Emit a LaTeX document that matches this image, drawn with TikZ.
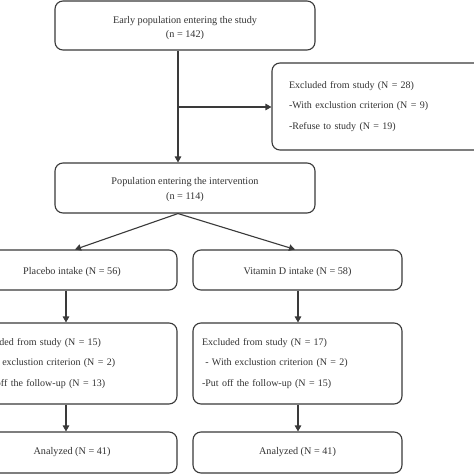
\documentclass[tikz,border=0pt]{standalone}
\usepackage{fontspec}
\setmainfont{Liberation Serif}
\usetikzlibrary{arrows.meta}
\definecolor{ln}{HTML}{3A3A3A}
\definecolor{tx}{HTML}{333333}
\tikzset{
  box/.style={draw=ln, line width=1.1pt, rounded corners=8pt, inner sep=0pt, text=tx, align=center, font=\fontsize{10.2}{14}\selectfont},
  txt/.style={inner sep=0pt, text=tx, align=center, font=\fontsize{10.2}{14}\selectfont},
  listbox/.style={box, align=left, font=\fontsize{10}{20.5}\selectfont},
  arr/.style={draw=ln, line width=1.1pt, -{Triangle[length=6pt,width=6.5pt]}}
}
\begin{document}
\begin{tikzpicture}[x=1pt,y=-1pt]
\useasboundingbox (0,0) rectangle (474,474);
\clip (0,0) rectangle (474,474);
\fill[white] (0,0) rectangle (474,474);
\node[box, minimum width=260pt, minimum height=49pt] (top) at (185,25.5) {};
\node[txt] (toptxt) at ([yshift=-2.5pt]top.center) {Early population entering the study\\(n = 142)};
\node[listbox, inner xsep=17pt, text width=194pt, minimum height=87pt] (ex1) at (386,106.5) {Excluded from study (N = 28)\\-With exclustion criterion (N = 9)\\-Refuse to study (N = 19)};
\node[box, minimum width=260pt, minimum height=50pt] (pop) at (185,188) {};
\node[txt] (poptxt) at ([yshift=-2pt]pop.center) {Population entering the intervention\\[1pt](n = 114)};
\node[box, minimum width=210pt, minimum height=40pt] (plac) at (72,270) {};
\node[txt] (plactxt) at ([yshift=-2pt]plac.center) {Placebo intake (N = 56)};
\node[box, minimum width=209pt, minimum height=40pt] (vitd) at (297.5,270) {};
\node[txt] (vitdtxt) at ([yshift=-2pt]vitd.center) {Vitamin D intake (N = 58)};
\node[listbox, inner xsep=9pt, text width=192pt, minimum height=81pt] (exl) at (72,363.5) {Excluded from study (N = 15)\\-With exclustion criterion (N = 2)\\-Put off the follow-up (N = 13)};
\node[listbox, inner xsep=9pt, text width=191pt, minimum height=81pt] (exr) at (297.5,363.5) {Excluded from study (N = 17)\\\ - With exclustion criterion (N = 2)\\-Put off the follow-up (N = 15)};
\node[box, minimum width=210pt, minimum height=41pt] (anl) at (72,452.5) {Analyzed (N = 41)};
\node[box, minimum width=209pt, minimum height=41pt] (anr) at (297.5,452.5) {Analyzed (N = 41)};
\coordinate (j) at (178,107);
\coordinate (la) at (66,0);
\coordinate (ra) at (298,0);
\draw[arr] (top.south -| j) -- (pop.north -| j);
\draw[arr] (j) -- (ex1.west |- j);
\draw[arr] (pop.south -| j) -- ([xshift=3pt]plac.north);
\draw[arr] (pop.south -| j) -- ([xshift=-2.5pt]vitd.north);
\draw[arr] (plac.south -| la) -- (exl.north -| la);
\draw[arr] (vitd.south -| ra) -- (exr.north -| ra);
\draw[arr] (exl.south -| la) -- (anl.north -| la);
\draw[arr] (exr.south -| ra) -- (anr.north -| ra);
\end{tikzpicture}
\end{document}
